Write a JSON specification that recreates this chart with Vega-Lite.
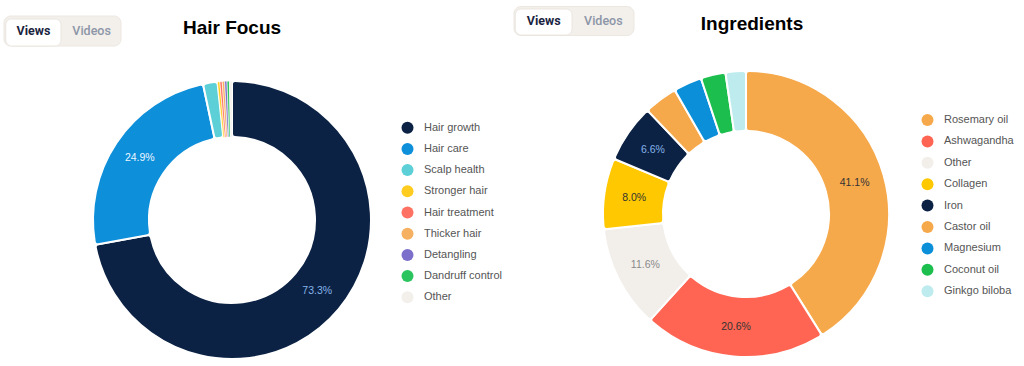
{
  "$schema": "https://vega.github.io/schema/vega-lite/v6.json",
  "padding": {"left": 3, "top": 5, "right": 0, "bottom": 0},
  "bounds": "flush",
  "align": "each",
  "columns": 2,
  "spacing": {"row": 27, "column": 53.5},
  "background": "#ffffff",
  "config": {"view": {"stroke": null}},
  "resolve": {
    "scale": {"color": "independent", "theta": "independent", "x": "independent", "y": "independent"},
    "legend": {"color": "independent"}
  },
  "concat": [
    {
      "width": 117,
      "height": 40,
      "data": {"values": [{"option": "Views", "active": true}, {"option": "Videos", "active": false}]},
      "layer": [
        {
          "transform": [{"filter": "datum.active"}],
          "mark": {"type": "rect", "color": "#F3EFEA", "cornerRadius": 7, "yOffset": 10, "stroke": "#ECE7E1", "strokeWidth": 1}
        },
        {
          "transform": [{"filter": "datum.active"}],
          "mark": {"type": "bar", "color": "#ffffff", "cornerRadius": 6, "yOffset": 13, "y2Offset": -3, "stroke": "#E7E2DC", "strokeWidth": 0.8},
          "encoding": {
            "x": {"field": "option", "type": "nominal", "axis": null, "sort": null, "scale": {"domain": ["Views", "Videos"], "paddingInner": 0.05, "paddingOuter": 0.03}}
          }
        },
        {
          "transform": [{"filter": "datum.active"}],
          "mark": {"type": "text", "font": "Roboto", "fontSize": 12.5, "fontWeight": 700, "color": "#1A2440", "yOffset": 5},
          "encoding": {
            "x": {"field": "option", "type": "nominal", "axis": null, "sort": null, "scale": {"domain": ["Views", "Videos"], "paddingInner": 0.05, "paddingOuter": 0.03}},
            "text": {"field": "option", "type": "nominal"}
          }
        },
        {
          "transform": [{"filter": "!datum.active"}],
          "mark": {"type": "text", "font": "Roboto", "fontSize": 12.5, "fontWeight": 500, "color": "#8C96A8", "yOffset": 5},
          "encoding": {
            "x": {"field": "option", "type": "nominal", "axis": null, "sort": null, "scale": {"domain": ["Views", "Videos"], "paddingInner": 0.05, "paddingOuter": 0.03}},
            "text": {"field": "option", "type": "nominal"}
          }
        }
      ]
    },
    {
      "width": 120,
      "height": 29,
      "view": {"fill": "#F3EFEA", "cornerRadius": 7, "stroke": "#ECE7E1", "strokeWidth": 1},
      "data": {"values": [{"option": "Views", "active": true}, {"option": "Videos", "active": false}]},
      "encoding": {
        "x": {"field": "option", "type": "nominal", "axis": null, "sort": null, "scale": {"domain": ["Views", "Videos"], "paddingInner": 0.05, "paddingOuter": 0.03}}
      },
      "layer": [
        {
          "transform": [{"filter": "datum.active"}],
          "mark": {"type": "bar", "color": "#ffffff", "cornerRadius": 6, "yOffset": 3, "y2Offset": -3, "stroke": "#E7E2DC", "strokeWidth": 0.8}
        },
        {
          "transform": [{"filter": "datum.active"}],
          "mark": {"type": "text", "font": "Roboto", "fontSize": 12.5, "fontWeight": 700, "color": "#1A2440"},
          "encoding": {"text": {"field": "option", "type": "nominal"}}
        },
        {
          "transform": [{"filter": "!datum.active"}],
          "mark": {"type": "text", "font": "Roboto", "fontSize": 12.5, "fontWeight": 500, "color": "#8C96A8"},
          "encoding": {"text": {"field": "option", "type": "nominal"}}
        }
      ]
    },
    {
      "width": 456,
      "height": 294,
      "title": {"text": "Hair Focus", "font": "Liberation Sans", "fontSize": 19, "fontWeight": "bold", "color": "#000000", "anchor": "middle", "frame": "group", "baseline": "alphabetic", "offset": 20},
      "data": {"values": [
        {"name": "Hair growth", "share": 73.3, "rank": 1, "label": "73.3%"},
        {"name": "Hair care", "share": 24.9, "rank": 2, "label": "24.9%"},
        {"name": "Scalp health", "share": 1.7, "rank": 3, "label": ""},
        {"name": "Stronger hair", "share": 0.28, "rank": 4, "label": ""},
        {"name": "Hair treatment", "share": 0.28, "rank": 5, "label": ""},
        {"name": "Thicker hair", "share": 0.28, "rank": 6, "label": ""},
        {"name": "Detangling", "share": 0.28, "rank": 7, "label": ""},
        {"name": "Dandruff control", "share": 0.28, "rank": 8, "label": ""},
        {"name": "Other", "share": 0.3, "rank": 9, "label": ""}
      ]},
      "layer": [
        {
          "mark": {"type": "arc", "innerRadius": 83, "outerRadius": 139, "stroke": "#ffffff", "cornerRadius": 3},
          "encoding": {
            "theta": {"field": "share", "type": "quantitative", "stack": true},
            "order": {"field": "rank", "type": "quantitative"},
            "strokeWidth": {"condition": {"test": "datum.share < 1", "value": 0.6}, "value": 2},
            "color": {
              "field": "name", "type": "nominal",
              "scale": {
                "domain": ["Hair growth", "Hair care", "Scalp health", "Stronger hair", "Hair treatment", "Thicker hair", "Detangling", "Dandruff control", "Other"],
                "range": ["#0B2244", "#0D8FDA", "#5DCFD6", "#FFCC1F", "#FF7263", "#F5B061", "#7B6FCB", "#2CC45E", "#F3F0EC"]
              },
              "legend": {"orient": "none", "legendX": 397.5, "legendY": 48.7, "title": null, "padding": 0, "symbolType": "circle", "symbolSize": 144, "symbolStrokeWidth": 0, "rowPadding": 9.2, "labelFont": "Liberation Sans", "labelFontSize": 11, "labelColor": "#555555", "labelOffset": 10.5}
            }
          }
        },
        {
          "mark": {"type": "text", "radius": 111, "font": "Liberation Sans", "fontSize": 10.5},
          "encoding": {
            "theta": {"field": "share", "type": "quantitative", "stack": true},
            "order": {"field": "rank", "type": "quantitative"},
            "text": {"field": "label", "type": "nominal"},
            "color": {"condition": [
              {"test": "datum.name === 'Hair growth'", "value": "#86B3E8"},
              {"test": "datum.name === 'Hair care'", "value": "#EEF6FF"}
            ], "value": "#333333"}
          }
        }
      ]
    },
    {
      "width": 465,
      "height": 282,
      "title": {"text": "Ingredients", "font": "Liberation Sans", "fontSize": 19, "fontWeight": "bold", "color": "#000000", "anchor": "middle", "frame": "group", "baseline": "alphabetic", "offset": 18, "dx": 6},
      "data": {"values": [
        {"name": "Rosemary oil", "share": 41.1, "rank": 1, "label": "41.1%"},
        {"name": "Ashwagandha", "share": 20.6, "rank": 2, "label": "20.6%"},
        {"name": "Other", "share": 11.6, "rank": 3, "label": "11.6%"},
        {"name": "Collagen", "share": 8.0, "rank": 4, "label": "8.0%"},
        {"name": "Iron", "share": 6.6, "rank": 5, "label": "6.6%"},
        {"name": "Castor oil", "share": 3.8, "rank": 6, "label": ""},
        {"name": "Magnesium", "share": 3.2, "rank": 7, "label": ""},
        {"name": "Coconut oil", "share": 2.8, "rank": 8, "label": ""},
        {"name": "Ginkgo biloba", "share": 2.3, "rank": 9, "label": ""}
      ]},
      "layer": [
        {
          "mark": {"type": "arc", "innerRadius": 83, "outerRadius": 143, "stroke": "#ffffff", "strokeWidth": 2, "cornerRadius": 3},
          "encoding": {
            "theta": {"field": "share", "type": "quantitative", "stack": true},
            "order": {"field": "rank", "type": "quantitative"},
            "color": {
              "field": "name", "type": "nominal",
              "scale": {
                "domain": ["Rosemary oil", "Ashwagandha", "Other", "Collagen", "Iron", "Castor oil", "Magnesium", "Coconut oil", "Ginkgo biloba"],
                "range": ["#F6A94B", "#FF6552", "#F2EFEB", "#FFC800", "#0B2244", "#F6A94B", "#0B8FD8", "#1CBE4E", "#BEECEE"]
              },
              "legend": {"orient": "none", "legendX": 408, "legendY": 41, "title": null, "padding": 0, "symbolType": "circle", "symbolSize": 144, "symbolStrokeWidth": 0, "rowPadding": 9.4, "labelFont": "Liberation Sans", "labelFontSize": 11, "labelColor": "#555555", "labelOffset": 10.5}
            }
          }
        },
        {
          "mark": {"type": "text", "radius": 113, "font": "Liberation Sans", "fontSize": 10.5},
          "encoding": {
            "theta": {"field": "share", "type": "quantitative", "stack": true},
            "order": {"field": "rank", "type": "quantitative"},
            "text": {"field": "label", "type": "nominal"},
            "color": {"condition": [
              {"test": "datum.name === 'Iron'", "value": "#86B3E8"},
              {"test": "datum.name === 'Other'", "value": "#8A8A8A"}
            ], "value": "#333333"}
          }
        }
      ]
    }
  ]
}
